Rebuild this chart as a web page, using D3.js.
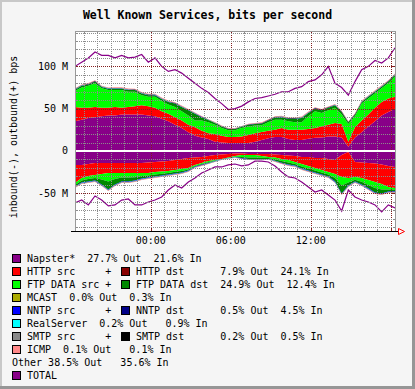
<!DOCTYPE html>
<html>
<head>
<meta charset="utf-8">
<script src="https://cdn.jsdelivr.net/npm/d3@7"></script>
<style>
  html, body { margin: 0; padding: 0; background: #f5f5f5; }
  svg { display: block; }
  text { font-family: "DejaVu Sans Mono", monospace; fill: #000; white-space: pre; }
</style>
</head>
<body>
<div id="chart"></div>
<script>
// samples every 30 minutes, 18:19 -> 18:19 next day, values in Mbit/s
const startTime = new Date(2000, 0, 1, 18, 19);
const stepMinutes = 30;

// outbound (+)
const napsterOut = [35,37,39,40,41,42,42,43,43,43, 43,42,41,38,35,31,27,22,18,16, 14,11,10,9.5,9.5,9.5,9.5,11,13,15, 16.5,16.5,14,13,13,14.5,15.5,16,17,17, 16,5,16,22,29,35,42,46,50];
const httpOut    = [17,14,12,12,10,9,10,8,9,10, 11,11,10,9,9,9,9,9,10,8, 7,9,8,7,7,7.5,9.5,10,9.5,9, 8.5,10.5,11,12,12,11.5,11.5,13,14,16, 16,6,12,14,14,16,16,16,14];
const ftpSrcOut  = [19,24,26,28,23,21,20,21,18,17, 12,11,13,12,11,12,11,11,8,12, 13,11,9,8,8,10,10,9,8,10, 12,10,10,9,9,15,20,16,17,18, 11,21,13,20,19,17,16,18,24];
const ftpDstOut  = [1.5,2,1.5,2,1.5,1.5,1.5,1.5,2,2, 2,2,2,2.5,3,4,5,6,8,4, 2.5,2,2,1.5,1.5,1.5,2,2,2,2, 2.5,3,3,4,5,4,3,3,3,3, 3,2,2,2,2,2,2,2,2];
const nntpOut    = [0.3,0.4,0.3,0.3,0.4,0.3,0.3,0.3,0.4,0.3, 0.3,0.3,0.4,0.3,0.3,0.3,0.3,0.4,0.3,0.3, 0.2,0.2,0.2,0.2,0.2,0.2,0.2,0.2,0.3,0.3, 0.3,0.4,0.3,0.3,0.3,0.3,0.4,0.3,0.3,0.3, 0.3,0.2,0.3,0.3,0.4,0.3,0.3,0.3,0.4];
const realOut    = [0.2,0.2,0.2,0.2,0.2,0.2,0.2,0.2,0.2,0.2, 0.2,0.2,0.2,0.2,0.2,0.2,0.2,0.2,0.2,0.2, 0.1,0.1,0.1,0.1,0.1,0.1,0.1,0.1,0.1,0.1, 0.2,0.2,0.2,0.2,0.2,0.2,0.2,0.2,0.2,0.2, 0.2,0.1,0.2,0.2,0.2,0.2,0.2,0.2,0.2];
const smtpOut    = [0.4,0.4,0.5,0.4,0.4,0.4,0.5,0.4,0.4,0.4, 0.4,0.5,0.4,0.4,0.4,0.4,0.5,0.4,0.4,0.3, 0.3,0.3,0.3,0.3,0.3,0.3,0.3,0.3,0.3,0.4, 0.4,0.4,0.4,0.5,0.4,0.4,0.4,0.4,0.5,0.4, 0.4,0.3,0.4,0.4,0.4,0.5,0.4,0.4,0.4];
const icmpOut    = [0.7,0.7,0.8,0.7,0.7,0.7,0.7,0.8,0.7,0.7, 0.7,0.7,0.7,0.7,0.8,0.7,0.7,0.7,0.6,0.6, 0.5,0.5,0.5,0.5,0.5,0.5,0.5,0.5,0.6,0.6, 0.7,0.7,0.7,0.7,0.7,0.8,0.7,0.7,0.7,0.7, 0.7,0.5,0.7,0.7,0.7,0.7,0.8,0.7,0.7];
const totalOut   = [100,105,110,117,113,113,110,113,110,111, 114,105,110,100,94,96,92,86,80,74, 69,62,56,49,50,53,58,62,63,65, 67,70,70,74,76,82,84,90,100,80, 75,66,82,96,100,107,104,110,122];

// inbound (-)
const napsterIn  = [16.5,16.5,15.4,14.2,14.2,14.2,14.2,14.2,14.2,14.2, 14.2,13.6,13,12.4,11.8,10.6,9.5,8.3,7.7,7.1, 5.9,4.7,4.1,3.5,3,3,3.5,3.5,3.5,3.5, 4.1,4.7,5.3,5.9,7.1,7.1,8.3,8.3,9.5,10.6, 4.7,1.2,13,13.6,14.2,14.8,16,17.7,18.9];
const httpIn     = [21.3,15.4,14.2,14.2,13,11.8,11.8,11.8,11.8,11.8, 11.8,12.4,11.8,11.8,11.8,11.8,11.8,11.8,8.9,7.1, 5.9,5.9,5.3,4.1,3,1.8,1.2,1.2,2.4,3.5, 3.5,4.7,5.3,7.1,8.3,10.6,11.8,14.2,15.4,16.5, 26,30.7,17.7,18.3,20,21.9,23,24.8,24.8];
const ftpSrcIn   = [2.3,3,3.5,3.5,6.5,10,7,5.5,5.5,5, 3.5,3,3,2.7,2.3,2.3,2.3,1.7,1.2,1.2, 1.4,0.8,0.3,0.6,0.8,2.2,3,3,2.2,1.4, 2.3,2.5,3,2.3,3,3,3,3,3,5, 10,5.5,3.3,4.5,6,7,6.5,3,2.5];
const ftpDstIn   = [1.8,2.3,3,3,5.9,9.5,6.6,4.5,4.5,3.8, 3,2.3,2.3,2,1.8,1.8,1.8,1.2,0.9,0.9, 1,0.5,0.1,0.4,0.5,1.4,1.8,1.8,1.4,1, 1.6,2,2.3,1.8,2.3,2.3,2.3,2.3,2.3,3.8, 9.5,3.3,2,3.2,4,5.4,4.7,2.3,1.6];
const nntpIn     = [0.7,0.7,0.7,0.7,0.7,0.7,0.7,0.7,0.7,0.7, 0.7,0.7,0.7,0.7,0.7,0.7,0.7,0.7,0.5,0.5, 0.4,0.4,0.3,0.3,0.4,0.4,0.4,0.4,0.4,0.4, 0.5,0.5,0.7,0.7,0.7,0.7,0.7,0.7,0.7,0.7, 0.7,0.7,0.7,0.7,0.7,0.7,0.7,0.7,0.7];
const realIn     = [0.3,0.3,0.3,0.3,0.3,0.3,0.3,0.3,0.3,0.3, 0.3,0.3,0.3,0.3,0.3,0.3,0.3,0.3,0.2,0.2, 0.2,0.2,0.2,0.2,0.2,0.2,0.2,0.2,0.2,0.2, 0.2,0.2,0.3,0.3,0.3,0.3,0.3,0.3,0.3,0.3, 0.3,0.3,0.3,0.3,0.3,0.3,0.3,0.3,0.3];
const smtpIn     = [0.3,0.3,0.3,0.3,0.3,0.3,0.3,0.3,0.3,0.3, 0.3,0.3,0.3,0.3,0.3,0.3,0.3,0.3,0.2,0.2, 0.2,0.2,0.1,0.1,0.2,0.2,0.2,0.2,0.2,0.2, 0.2,0.2,0.3,0.3,0.3,0.3,0.3,0.3,0.3,0.3, 0.3,0.3,0.3,0.3,0.3,0.3,0.3,0.3,0.3];
const icmpIn     = [0.5,0.5,0.5,0.5,0.5,0.5,0.5,0.5,0.5,0.5, 0.5,0.5,0.5,0.5,0.5,0.5,0.5,0.5,0.5,0.5, 0.3,0.3,0.2,0.2,0.3,0.3,0.3,0.3,0.3,0.3, 0.5,0.5,0.5,0.5,0.5,0.5,0.5,0.5,0.5,0.5, 0.5,0.5,0.5,0.5,0.5,0.5,0.5,0.5,0.5];
const totalIn    = [61.5,58,63.8,53.2,58,65,63.8,58,56.7,63.8, 63.8,60.3,58,54.4,46.1,40.2,43.7,36.6,31.9,26, 22.5,18.9,18.9,16.5,15.4,17.7,16.5,12,12,13, 17.7,24.8,30.7,31.9,36.6,42.5,48.5,46.1,52,58, 71,46.1,54.4,58,60.3,63.8,72,63.8,67.4];

const yTickValues = [-50, 0, 50, 100];
const yTickLabels = ['-50 M', '0', '50 M', '100 M'];
const xLabelHours = [0, 6, 12];

const layerKeys = ['napster', 'http', 'ftpSrc', 'ftpDst', 'nntp', 'real', 'smtp', 'icmp'];
const layerColors = ['#880088', '#ff0000', '#00ff00', '#008800', '#0000ff', '#00ffff', '#000000', '#ff8888'];
const outSeries = [napsterOut, httpOut, ftpSrcOut, ftpDstOut, nntpOut, realOut, smtpOut, icmpOut];
const inSeries = [napsterIn, httpIn, ftpSrcIn, ftpDstIn, nntpIn, realIn, smtpIn, icmpIn];

// legend
const legendRows = [
  [['#880088', 'Napster*  27.7% Out  21.6% In']],
  [['#ff0000', 'HTTP src     +'], ['#880000', 'HTTP dst      7.9% Out  24.1% In']],
  [['#00ff00', 'FTP DATA src +'], ['#008800', 'FTP DATA dst  24.9% Out  12.4% In']],
  [['#aaaa00', 'MCAST  0.0% Out  0.3% In']],
  [['#0000ff', 'NNTP src     +'], ['#000088', 'NNTP dst      0.5% Out  4.5% In']],
  [['#00ffff', 'RealServer  0.2% Out   0.9% In']],
  [['#888888', 'SMTP src     +'], ['#000000', 'SMTP dst      0.2% Out  0.5% In']],
  [['#ff8888', 'ICMP  0.1% Out   0.1% In']],
  [[null, 'Other 38.5% Out   35.6% In']],
  [['#880088', 'TOTAL']]
];

const W = 415, H = 389;
const P = { left: 75, right: 395, top: 31, bottom: 231 };

const svg = d3.select('#chart').append('svg')
  .attr('width', W).attr('height', H)
  .attr('viewBox', `0 0 ${W} ${H}`);

// background + shaded frame
svg.append('rect').attr('width', W).attr('height', H).attr('fill', '#f5f5f5');
svg.append('rect').attr('x', 0).attr('y', 0).attr('width', W).attr('height', 2).attr('fill', '#c8c8c8');
svg.append('rect').attr('x', 0).attr('y', 0).attr('width', 2).attr('height', H).attr('fill', '#c8c8c8');
svg.append('rect').attr('x', W - 3).attr('y', 0).attr('width', 3).attr('height', H).attr('fill', '#969696');
svg.append('rect').attr('x', 0).attr('y', H - 3).attr('width', W).attr('height', 3).attr('fill', '#969696');

svg.append('text')
  .attr('x', 207.5).attr('y', 19)
  .attr('text-anchor', 'middle')
  .style('font-size', '11.5px').style('font-weight', 'bold')
  .text('Well Known Services, bits per second');

svg.append('rect')
  .attr('x', P.left).attr('y', P.top)
  .attr('width', P.right - P.left).attr('height', P.bottom - P.top)
  .attr('fill', '#ffffff');

const endTime = new Date(startTime.getTime() + 24 * 3600 * 1000);
const times = napsterOut.map((_, i) => new Date(startTime.getTime() + i * stepMinutes * 60000));

const x = d3.scaleTime().domain([startTime, endTime]).range([P.left, P.right]);
const y = d3.scaleLinear().domain([-94.6, 141.8]).range([P.bottom, P.top]);

const makeRows = series => times.map((t, i) => {
  const r = { t };
  layerKeys.forEach((k, j) => { r[k] = series[j][i]; });
  return r;
});

const stackOut = d3.stack().keys(layerKeys)(makeRows(outSeries));
const stackIn = d3.stack().keys(layerKeys)(makeRows(inSeries));

svg.append('clipPath').attr('id', 'plotclip')
  .append('rect').attr('x', P.left).attr('y', P.top)
  .attr('width', P.right - P.left).attr('height', P.bottom - P.top);

const g = svg.append('g').attr('clip-path', 'url(#plotclip)');

const areaOut = d3.area().x(d => x(d.data.t)).y0(d => y(d[0])).y1(d => y(d[1]));
const areaIn = d3.area().x(d => x(d.data.t)).y0(d => y(-d[0])).y1(d => y(-d[1]));

g.selectAll('path.out').data(stackOut).enter().append('path')
  .attr('class', 'out')
  .attr('d', areaOut)
  .attr('fill', (d, i) => layerColors[i]);

g.selectAll('path.in').data(stackIn).enter().append('path')
  .attr('class', 'in')
  .attr('d', areaIn)
  .attr('fill', (d, i) => layerColors[i]);

// TOTAL lines
const lineOut = d3.line().x((d, i) => x(times[i])).y(d => y(d));
const lineIn = d3.line().x((d, i) => x(times[i])).y(d => y(-d));
g.append('path').attr('d', lineOut(totalOut)).attr('fill', 'none').attr('stroke', '#880088').attr('stroke-width', 1.2);
g.append('path').attr('d', lineIn(totalIn)).attr('fill', 'none').attr('stroke', '#880088').attr('stroke-width', 1.2);

// grid
const grid = svg.append('g').attr('shape-rendering', 'crispEdges');
const hours = x.ticks(d3.timeHour.every(1));
hours.forEach(h => {
  const major = h.getHours() % 6 === 0;
  const px = Math.round(x(h)) + 0.5;
  const col = major ? '#821e1e' : '#8c8c8c';
  grid.append('line').attr('x1', px).attr('x2', px).attr('y1', P.top).attr('y2', P.bottom)
    .attr('stroke', col).attr('stroke-dasharray', '1,1');
  const stub = major ? 3 : 2;
  grid.append('line').attr('x1', px).attr('x2', px).attr('y1', P.top).attr('y2', P.top + stub).attr('stroke', col);
  grid.append('line').attr('x1', px).attr('x2', px).attr('y1', P.bottom - stub).attr('y2', P.bottom).attr('stroke', col);
});

d3.range(-90, 141, 10).forEach(v => {
  if (v === 0) return;
  const major = v % 50 === 0;
  const py = Math.round(y(v)) + 0.5;
  const col = major ? '#821e1e' : '#8c8c8c';
  grid.append('line').attr('x1', P.left).attr('x2', P.right).attr('y1', py).attr('y2', py)
    .attr('stroke', col).attr('stroke-dasharray', '1,1');
  const stub = major ? 3 : 2;
  grid.append('line').attr('x1', P.left).attr('x2', P.left + stub).attr('y1', py).attr('y2', py).attr('stroke', col);
  grid.append('line').attr('x1', P.right - stub).attr('x2', P.right).attr('y1', py).attr('y2', py).attr('stroke', col);
});

// zero line
grid.append('line').attr('x1', P.left).attr('x2', P.right)
  .attr('y1', y(0)).attr('y2', y(0)).attr('stroke', '#ffffff').attr('stroke-width', 2);

// plot frame
grid.append('line').attr('x1', P.left + 0.5).attr('x2', P.left + 0.5).attr('y1', P.top).attr('y2', P.bottom).attr('stroke', '#999');
grid.append('line').attr('x1', P.right + 0.5).attr('x2', P.right + 0.5).attr('y1', P.top).attr('y2', P.bottom).attr('stroke', '#999');
grid.append('line').attr('x1', P.left).attr('x2', P.right + 1).attr('y1', P.top + 0.5).attr('y2', P.top + 0.5).attr('stroke', '#999');
grid.append('line').attr('x1', 71).attr('x2', 398).attr('y1', P.bottom + 0.5).attr('y2', P.bottom + 0.5).attr('stroke', '#000');
svg.append('path').attr('d', `M398.5,228.5 L404.5,231.5 L398.5,234.5 Z`)
  .attr('fill', 'none').attr('stroke', '#ff0000');

// y tick labels
yTickValues.forEach((v, i) => {
  svg.append('text').attr('x', 68).attr('y', y(v) + 3.5)
    .attr('text-anchor', 'end').style('font-size', '10px')
    .text(yTickLabels[i]);
});

// x tick labels
const fmt = d3.timeFormat('%H:%M');
xLabelHours.forEach(hh => {
  const t = new Date(2000, 0, 2, hh, 0);
  svg.append('text').attr('x', x(t)).attr('y', 244)
    .attr('text-anchor', 'middle').style('font-size', '10px')
    .text(fmt(t));
});

// y axis title
svg.append('text')
  .attr('transform', 'translate(17,137) rotate(-90)')
  .attr('text-anchor', 'middle').style('font-size', '10px')
  .text('inbound(-), outbound(+) bps');

// legend
const lg = svg.append('g');
legendRows.forEach((row, r) => {
  const top = 254 + r * 13;
  row.forEach((item, j) => {
    const bx = j === 0 ? 12 : 121;
    const [col, txt] = item;
    if (col) {
      lg.append('rect').attr('x', bx + 0.5).attr('y', top + 0.5).attr('width', 8).attr('height', 8)
        .attr('fill', col).attr('stroke', '#000').attr('shape-rendering', 'crispEdges');
      lg.append('text').attr('x', bx + 15).attr('y', top + 8).style('font-size', '10px').text(txt);
    } else {
      lg.append('text').attr('x', bx).attr('y', top + 8).style('font-size', '10px').text(txt);
    }
  });
});
</script>
</body>
</html>
